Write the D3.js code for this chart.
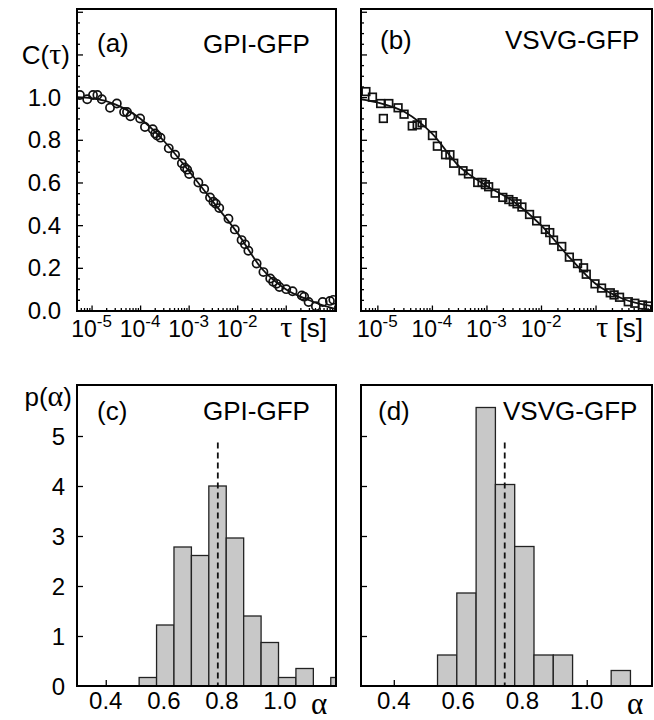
<!DOCTYPE html>
<html>
<head>
<meta charset="utf-8">
<script src="https://cdn.jsdelivr.net/npm/d3@7"></script>
<style>
    body { margin: 0; background: #fff; }
    svg { display: block; font-family: "Liberation Sans", Arial, sans-serif; }
</style>
</head>
<body>
<svg id="chart" width="654" height="720"></svg>
<script>
// ---------------- data ----------------
// (a) GPI-GFP: log10(tau) and C(tau)
const gpiLogTau = [-5.24, -5.09, -4.97, -4.88, -4.79, -4.62, -4.48, -4.33, -4.27, -4.20, -4.00, -3.90, -3.74, -3.69, -3.65, -3.58,
    -3.41, -3.28, -3.14, -3.08, -3.03, -2.99, -2.80, -2.68, -2.56, -2.49, -2.44, -2.37, -2.18, -2.05, -1.91, -1.84, -1.77,
    -1.60, -1.46, -1.32, -1.26, -1.19, -1.13, -0.99, -0.86, -0.67, -0.62, -0.53, -0.38, -0.24, -0.09, -0.02];
const gpiC = [1.01, 0.99, 1.01, 1.01, 0.99, 0.95, 0.97, 0.93, 0.93, 0.91, 0.90, 0.86, 0.85, 0.83, 0.82, 0.81,
    0.76, 0.73, 0.69, 0.67, 0.66, 0.64, 0.60, 0.57, 0.53, 0.51, 0.50, 0.48, 0.43, 0.38, 0.33, 0.31, 0.28,
    0.22, 0.18, 0.15, 0.135, 0.125, 0.11, 0.10, 0.09, 0.07, 0.065, 0.04, 0.02, 0.04, 0.045, 0.05];
const gpiFitLogTau = [-5.3, -5, -4.5, -4, -3.5, -3, -2.5, -2, -1.5, -1, -0.5, -0.25, 0.04];
const gpiFitC = [1.0, 0.995, 0.965, 0.90, 0.792, 0.655, 0.51, 0.365, 0.198, 0.10, 0.047, 0.025, 0.006];

// (b) VSVG-GFP
const vsvgLogTau = [-5.21, -5.09, -4.94, -4.89, -4.79, -4.62, -4.51, -4.36, -4.27, -4.18, -3.99, -3.90, -3.75, -3.67, -3.60,
    -3.43, -3.33, -3.16, -3.08, -3.02, -2.96, -2.84, -2.70, -2.59, -2.51, -2.44, -2.35, -2.21, -2.08, -1.92, -1.84, -1.77,
    -1.62, -1.48, -1.33, -1.22, -1.17, -1.01, -0.89, -0.73, -0.66, -0.56, -0.40, -0.28, -0.14, -0.04];
const vsvgC = [1.026, 1.0, 0.97, 0.90, 0.97, 0.95, 0.92, 0.865, 0.87, 0.88, 0.82, 0.77, 0.73, 0.73, 0.69,
    0.655, 0.64, 0.60, 0.60, 0.59, 0.58, 0.55, 0.53, 0.52, 0.51, 0.50, 0.485, 0.45, 0.42, 0.38, 0.365, 0.33,
    0.30, 0.25, 0.22, 0.20, 0.17, 0.125, 0.105, 0.083, 0.073, 0.062, 0.041, 0.034, 0.026, 0.021];
const vsvgFitLogTau = [-5.3, -5, -4.5, -4, -3.5, -3, -2.5, -2, -1.5, -1, -0.5, 0.04];
const vsvgFitC = [0.99, 0.975, 0.93, 0.83, 0.675, 0.585, 0.51, 0.40, 0.255, 0.125, 0.055, 0.02];

// (c), (d) histograms of alpha
const binWidth = 0.06;
const gpiBinStart = 0.515;
const gpiDensity = [0.17, 1.22, 2.78, 2.61, 4.0, 2.96, 1.40, 0.87, 0.17, 0.35, 0, 0.17];
const gpiMeanAlpha = 0.786;
const vsvgBinStart = 0.536;
const vsvgDensity = [0.62, 1.86, 5.57, 4.03, 2.79, 0.62, 0.62, 0, 0, 0.31];
const vsvgMeanAlpha = 0.745;
const meanLineTop = 4.87;

const cTicks = [0, 0.2, 0.4, 0.6, 0.8, 1.0];
const decadeTicks = [-5, -4, -3, -2];
const pTicks = [0, 1, 2, 3, 4, 5];
const alphaTicks = [0.4, 0.6, 0.8, 1.0];

// ---------------- layout ----------------
const svg = d3.select("#chart");
const topY = [9, 311];
const botY = [385, 686];
const colA = [77, 336];
const colB = [361, 652];
const tickFont = 24;
const labelFont = 26;
const greek = "'Liberation Serif', 'DejaVu Serif', serif";

const yC = d3.scaleLinear().domain([0, 1.413]).range([310.5, topY[0]]);
const yP = d3.scaleLinear().domain([0, 6.02]).range([botY[1], botY[0]]);
const tauDomain = [Math.pow(10, -5.3), Math.pow(10, 0.035)];

// 畫一個 C(tau) 面板
function drawFcs(cols, id, logTau, cVals, fitLog, fitC, marker) {
    const x = d3.scaleLog().domain(tauDomain).range(cols);
    const g = svg.append("g");

    svg.append("clipPath").attr("id", id)
        .append("rect")
        .attr("x", cols[0]).attr("y", topY[0])
        .attr("width", cols[1] - cols[0]).attr("height", topY[1] - topY[0]);

    // minor / major ticks (inward)
    const minor = [];
    for (let e = -6; e <= 0; e++) {
        for (let m = 2; m <= 9; m++) {
            const v = m * Math.pow(10, e);
            if (v > tauDomain[0] && v < tauDomain[1]) minor.push(v);
        }
    }
    const majors = [-5, -4, -3, -2, -1, 0].map(e => Math.pow(10, e)).filter(v => v < tauDomain[1]);
    g.append("g").attr("transform", `translate(0,${topY[1]})`)
        .call(d3.axisBottom(x).tickValues(minor).tickSize(-3).tickFormat(""));
    g.append("g").attr("transform", `translate(0,${topY[1]})`)
        .call(d3.axisBottom(x).tickValues(majors).tickSize(-5.5).tickFormat(""));

    const yMinor = d3.range(0, 1.41, 0.05).filter(v => Math.abs(v * 5 - Math.round(v * 5)) > 1e-6);
    g.append("g").attr("transform", `translate(${cols[0]},0)`)
        .call(d3.axisLeft(yC).tickValues(yMinor).tickSize(-3).tickFormat(""));
    g.append("g").attr("transform", `translate(${cols[0]},0)`)
        .call(d3.axisLeft(yC).tickValues([0, 0.2, 0.4, 0.6, 0.8, 1.0, 1.2, 1.4]).tickSize(-6).tickFormat(""));
    g.selectAll(".domain").remove();
    g.selectAll(".tick line").attr("stroke", "#000").attr("stroke-width", 1.3);

    // decade labels with superscript
    decadeTicks.forEach(e => {
        const t = svg.append("text")
            .attr("x", x(Math.pow(10, e)))
            .attr("y", 337)
            .attr("text-anchor", "middle")
            .attr("font-size", 23);
        t.append("tspan").text("10");
        t.append("tspan").attr("font-size", 17).attr("dy", -10).text(e);
    });
    const tl = svg.append("text")
        .attr("x", cols[1] - 9).attr("y", 337)
        .attr("text-anchor", "end")
        .attr("font-size", labelFont);
    tl.append("tspan").attr("font-family", greek).attr("font-size", 30).text("τ");
    tl.append("tspan").text(" [s]");

    // fit curve
    const line = d3.line()
        .x(d => x(Math.pow(10, d[0])))
        .y(d => yC(d[1]))
        .curve(d3.curveMonotoneX);
    svg.append("path")
        .datum(fitLog.map((v, i) => [v, fitC[i]]))
        .attr("clip-path", `url(#${id})`)
        .attr("d", line)
        .attr("fill", "none")
        .attr("stroke", "#111")
        .attr("stroke-width", 1.8);

    // data markers
    const pts = logTau.map((v, i) => ({ x: x(Math.pow(10, v)), y: yC(cVals[i]) }));
    const mg = svg.append("g").attr("clip-path", `url(#${id})`);
    if (marker === "circle") {
        mg.selectAll("circle").data(pts).join("circle")
            .attr("cx", d => d.x).attr("cy", d => d.y).attr("r", 4.1)
            .attr("fill", "none").attr("stroke", "#111").attr("stroke-width", 1.7);
    } else {
        mg.selectAll("rect").data(pts).join("rect")
            .attr("x", d => d.x - 3.8).attr("y", d => d.y - 3.8)
            .attr("width", 7.6).attr("height", 7.6)
            .attr("fill", "none").attr("stroke", "#111").attr("stroke-width", 1.7);
    }

    // frame
    svg.append("rect")
        .attr("x", cols[0]).attr("y", topY[0])
        .attr("width", cols[1] - cols[0]).attr("height", topY[1] - topY[0])
        .attr("fill", "none").attr("stroke", "#000").attr("stroke-width", 2);
}

// 畫一個 p(alpha) 直方圖
function drawHist(cols, id, xDomain, binStart, density, mean) {
    const x = d3.scaleLinear().domain(xDomain).range(cols);
    const g = svg.append("g");

    svg.append("clipPath").attr("id", id)
        .append("rect")
        .attr("x", cols[0]).attr("y", botY[0])
        .attr("width", cols[1] - cols[0]).attr("height", botY[1] - botY[0]);

    g.append("g").attr("transform", `translate(0,${botY[1]})`)
        .call(d3.axisBottom(x).tickValues(alphaTicks).tickSize(-6).tickFormat(""));
    g.append("g").attr("transform", `translate(${cols[0]},0)`)
        .call(d3.axisLeft(yP).tickValues([1, 2, 3, 4, 5]).tickSize(-6).tickFormat(""));
    g.selectAll(".domain").remove();
    g.selectAll(".tick line").attr("stroke", "#000").attr("stroke-width", 1.3);

    svg.append("g").selectAll("text").data(alphaTicks).join("text")
        .attr("x", d => x(d)).attr("y", 709)
        .attr("text-anchor", "middle")
        .attr("font-size", tickFont)
        .text(d => d.toFixed(1));
    svg.append("text")
        .attr("x", cols[1] - 17).attr("y", 714)
        .attr("text-anchor", "middle")
        .attr("font-family", greek)
        .attr("font-size", 31)
        .text("α");

    // bars
    const bins = density.map((v, i) => ({ x0: binStart + i * binWidth, v: v })).filter(d => d.v > 0);
    svg.append("g").attr("clip-path", `url(#${id})`)
        .selectAll("rect").data(bins).join("rect")
        .attr("x", d => x(d.x0))
        .attr("y", d => yP(d.v))
        .attr("width", d => x(d.x0 + binWidth) - x(d.x0))
        .attr("height", d => yP(0) - yP(d.v))
        .attr("fill", "#c8c8c8")
        .attr("stroke", "#222")
        .attr("stroke-width", 1.3);

    // mean (dashed)
    svg.append("line")
        .attr("x1", x(mean)).attr("x2", x(mean))
        .attr("y1", yP(meanLineTop)).attr("y2", yP(0))
        .attr("stroke", "#111").attr("stroke-width", 1.8)
        .attr("stroke-dasharray", "6,4");

    svg.append("rect")
        .attr("x", cols[0]).attr("y", botY[0])
        .attr("width", cols[1] - cols[0]).attr("height", botY[1] - botY[0])
        .attr("fill", "none").attr("stroke", "#000").attr("stroke-width", 2);
}

drawFcs(colA, "clipA", gpiLogTau, gpiC, gpiFitLogTau, gpiFitC, "circle");
drawFcs(colB, "clipB", vsvgLogTau, vsvgC, vsvgFitLogTau, vsvgFitC, "square");
drawHist(colA, "clipC", [0.301, 1.193], gpiBinStart, gpiDensity, gpiMeanAlpha);
drawHist(colB, "clipD", [0.298, 1.203], vsvgBinStart, vsvgDensity, vsvgMeanAlpha);

// y tick labels (only on left panels)
svg.append("g").selectAll("text").data(cTicks).join("text")
    .attr("x", 61).attr("y", d => yC(d) + 8.5)
    .attr("text-anchor", "end")
    .attr("font-size", tickFont)
    .text(d => d.toFixed(1));
svg.append("g").selectAll("text").data(pTicks).join("text")
    .attr("x", 65).attr("y", d => yP(d) + 8.5)
    .attr("text-anchor", "end")
    .attr("font-size", tickFont)
    .text(d => d);

// axis titles
const cLab = svg.append("text").attr("x", 70).attr("y", 64).attr("text-anchor", "end").attr("font-size", labelFont);
cLab.append("tspan").text("C(");
cLab.append("tspan").attr("font-family", greek).attr("font-size", 30).text("τ");
cLab.append("tspan").text(")");
const pLab = svg.append("text").attr("x", 72).attr("y", 406).attr("text-anchor", "end").attr("font-size", labelFont);
pLab.append("tspan").text("p(");
pLab.append("tspan").attr("font-family", greek).attr("font-size", 30).text("α");
pLab.append("tspan").text(")");

// panel labels
const panelLabels = [
    { t: "(a)", x: 97, y: 52 }, { t: "GPI-GFP", x: 203, y: 53 },
    { t: "(b)", x: 380, y: 49 }, { t: "VSVG-GFP", x: 505, y: 49 },
    { t: "(c)", x: 97, y: 420 }, { t: "GPI-GFP", x: 203, y: 420 },
    { t: "(d)", x: 378, y: 420 }, { t: "VSVG-GFP", x: 503, y: 420 }
];
svg.append("g").selectAll("text").data(panelLabels).join("text")
    .attr("x", d => d.x).attr("y", d => d.y)
    .attr("font-size", labelFont)
    .text(d => d.t);
</script>
</body>
</html>
